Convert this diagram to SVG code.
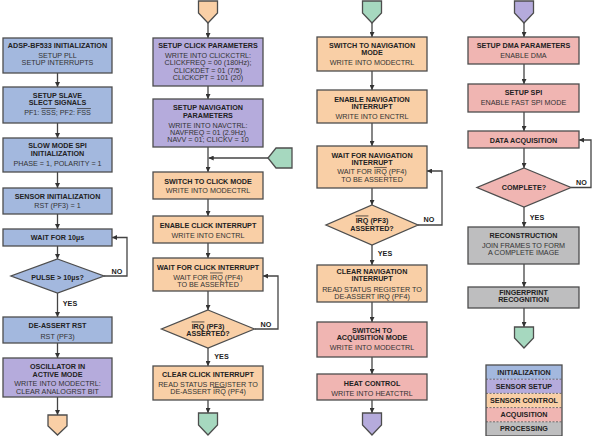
<svg xmlns="http://www.w3.org/2000/svg" width="594" height="436" viewBox="0 0 594 436">
<defs>
<style>
.b{stroke:#4d4d4d;stroke-width:1.3}
.ini{fill:#a3b8de}
.set{fill:#b5abdc}
.ctl{fill:#f9cfa6}
.acq{fill:#f0b5b2}
.pro{fill:#bebebf}
.grn{fill:#a6d8bf}
text{font-family:"Liberation Sans",Arial,sans-serif;font-size:7.2px;text-anchor:middle}
.t{font-weight:bold;fill:#222}
.r{fill:#333}
.c{stroke:#444;stroke-width:1.3;fill:none}
.ov{text-decoration:overline}
</style>
<marker id="ah" viewBox="0 0 6 6" refX="6" refY="3" markerWidth="5" markerHeight="5" markerUnits="userSpaceOnUse" orient="auto"><path d="M0,0 L6,3 L0,6 z" fill="#333"/></marker>
</defs>
<rect width="594" height="436" fill="#fff"/>

<g id="connectors">
<!-- column 1 -->
<path class="c" marker-end="url(#ah)" d="M57.5,73 V87"/>
<path class="c" marker-end="url(#ah)" d="M57.5,123 V138"/>
<path class="c" marker-end="url(#ah)" d="M57.5,172 V188"/>
<path class="c" marker-end="url(#ah)" d="M57.5,214 V229"/>
<path class="c" marker-end="url(#ah)" d="M57.5,246 V259"/>
<path class="c" marker-end="url(#ah)" d="M57.5,293 V317"/>
<path class="c" marker-end="url(#ah)" d="M57.5,343 V358"/>
<path class="c" marker-end="url(#ah)" d="M57.5,397 V415"/>
<path class="c" marker-end="url(#ah)" d="M104,276 H127 V237.5 H112"/>
<!-- column 2 -->
<path class="c" marker-end="url(#ah)" d="M208,23 V38"/>
<path class="c" marker-end="url(#ah)" d="M208,86 V99"/>
<path class="c" marker-end="url(#ah)" d="M208,147 V172"/>
<path class="c" marker-end="url(#ah)" d="M268,158 H208.7"/>
<path class="c" marker-end="url(#ah)" d="M208,199 V216"/>
<path class="c" marker-end="url(#ah)" d="M208,243 V258"/>
<path class="c" marker-end="url(#ah)" d="M208,291 V310"/>
<path class="c" marker-end="url(#ah)" d="M208,348 V366"/>
<path class="c" marker-end="url(#ah)" d="M208,400 V413"/>
<path class="c" marker-end="url(#ah)" d="M254.5,329 H278 V276 H263"/>
<!-- column 3 -->
<path class="c" marker-end="url(#ah)" d="M372,23 V37"/>
<path class="c" marker-end="url(#ah)" d="M372,71 V90"/>
<path class="c" marker-end="url(#ah)" d="M372,123 V146"/>
<path class="c" marker-end="url(#ah)" d="M372,188 V205"/>
<path class="c" marker-end="url(#ah)" d="M372,245 V265"/>
<path class="c" marker-end="url(#ah)" d="M372,302 V322"/>
<path class="c" marker-end="url(#ah)" d="M372,357 V374"/>
<path class="c" marker-end="url(#ah)" d="M372,400 V413"/>
<path class="c" marker-end="url(#ah)" d="M418,225 H442 V171 H427"/>
<!-- column 4 -->
<path class="c" marker-end="url(#ah)" d="M524,23 V37"/>
<path class="c" marker-end="url(#ah)" d="M524,64 V84"/>
<path class="c" marker-end="url(#ah)" d="M524,112 V131"/>
<path class="c" marker-end="url(#ah)" d="M524,148 V168"/>
<path class="c" marker-end="url(#ah)" d="M524,207 V227"/>
<path class="c" marker-end="url(#ah)" d="M524,264 V287"/>
<path class="c" marker-end="url(#ah)" d="M524,308 V327"/>
<path class="c" marker-end="url(#ah)" d="M571,187.5 H591 V140 H579"/>
<!-- labels -->
<text class="t" x="117" y="273.5">NO</text>
<text class="t" x="70" y="306">YES</text>
<text class="t" x="266" y="326.5">NO</text>
<text class="t" x="221.5" y="358.5">YES</text>
<text class="t" x="429" y="221.5">NO</text>
<text class="t" x="385" y="255.5">YES</text>
<text class="t" x="581.5" y="184.5">NO</text>
<text class="t" x="537" y="219.5">YES</text>
</g>

<!-- Column 1 -->
<g id="n-init">
<rect class="b ini" x="3" y="38" width="109" height="35"/>
<text class="t" x="57.5" y="47.6">ADSP-BF533 INITIALIZATION</text>
<text class="r" x="57.5" y="57.6">SETUP PLL</text>
<text class="r" x="57.5" y="65">SETUP INTERRUPTS</text>
</g>
<g id="n-slave">
<rect class="b ini" x="3" y="87" width="109" height="36"/>
<text class="t" x="57.5" y="98.3">SETUP SLAVE</text>
<text class="t" x="57.5" y="105.3">SLECT SIGNALS</text>
<text class="r" x="57.5" y="115.3">PF1: <tspan class="ov">SSS</tspan>; PF2: <tspan class="ov">FSS</tspan></text>
</g>
<g id="n-spi">
<rect class="b ini" x="3" y="138" width="109" height="34"/>
<text class="t" x="57.5" y="147.6">SLOW MODE SPI</text>
<text class="t" x="57.5" y="156">INITIALIZATION</text>
<text class="r" x="57.5" y="166">PHASE = 1, POLARITY = 1</text>
</g>
<g id="n-sensor">
<rect class="b ini" x="3" y="188" width="109" height="26"/>
<text class="t" x="57.5" y="198.6">SENSOR INITIALIZATION</text>
<text class="r" x="57.5" y="208.3">RST (PF3) = 1</text>
</g>
<g id="n-wait">
<rect class="b ini" x="3" y="229" width="109" height="17"/>
<text class="t" x="57.5" y="240.3">WAIT FOR 10µs</text>
</g>
<g id="n-pulse">
<path class="b ini" d="M57.5,259 L104,276 L57.5,293 L11,276 Z"/>
<text class="t" x="57.5" y="279.5">PULSE &gt; 10µs?</text>
</g>
<g id="n-deassert">
<rect class="b ini" x="3" y="317" width="109" height="26"/>
<text class="t" x="57.5" y="327.6">DE-ASSERT RST</text>
<text class="r" x="57.5" y="339.3">RST (PF3)</text>
</g>
<g id="n-osc">
<rect class="b set" x="3" y="358" width="109" height="39"/>
<text class="t" x="57.5" y="369">OSCILLATOR IN</text>
<text class="t" x="57.5" y="376.5">ACTIVE MODE</text>
<text class="r" x="57.5" y="386.3">WRITE INTO MODECTRL:</text>
<text class="r" x="57.5" y="393.8">CLEAR ANALOGRST BIT</text>
</g>
<g id="p-out1">
<path class="b ctl" d="M48,415 H67 V426 L57.5,435 L48,426 Z"/>
</g>

<!-- Column 2 -->
<g id="p-in2">
<path class="b ctl" d="M198.5,1 H217.5 V13 L208,23 L198.5,13 Z"/>
</g>
<g id="n-clickparam">
<rect class="b set" x="153" y="38" width="110" height="48"/>
<text class="t" x="208" y="47.6">SETUP CLICK PARAMETERS</text>
<text class="r" x="208" y="57.6">WRITE INTO CLICKCTRL:</text>
<text class="r" x="208" y="65">CLICKFREQ = 00 (180Hz);</text>
<text class="r" x="208" y="72.6">CLICKDET = 01 (7/5)</text>
<text class="r" x="208" y="80">CLICKCPT = 101 (20)</text>
</g>
<g id="n-navparam">
<rect class="b set" x="153" y="99" width="110" height="48"/>
<text class="t" x="208" y="110.3">SETUP NAVIGATION</text>
<text class="t" x="208" y="117.6">PARAMETERS</text>
<text class="r" x="208" y="127.6">WRITE INTO NAVCTRL:</text>
<text class="r" x="208" y="135">NAVFREQ = 01 (2.9Hz)</text>
<text class="r" x="208" y="142">NAVV = 01; CLICKV = 10</text>
</g>
<g id="p-side">
<path class="b grn" d="M292,148 V168 H276 L268,158 L276,148 Z"/>
</g>
<g id="n-clickmode">
<rect class="b ctl" x="153" y="172" width="110" height="27"/>
<text class="t" x="208" y="183.6">SWITCH TO CLICK MODE</text>
<text class="r" x="208" y="193.3">WRITE INTO MODECTRL</text>
</g>
<g id="n-enclick">
<rect class="b ctl" x="153" y="216" width="110" height="27"/>
<text class="t" x="208" y="227.6">ENABLE CLICK INTERRUPT</text>
<text class="r" x="208" y="237.6">WRITE INTO ENCTRL</text>
</g>
<g id="n-waitclick">
<rect class="b ctl" x="153" y="258" width="110" height="33"/>
<text class="t" x="208" y="270">WAIT FOR CLICK INTERRUPT</text>
<text class="r" x="208" y="279.6">WAIT FOR <tspan class="ov">IRQ</tspan> (PF4)</text>
<text class="r" x="208" y="287">TO BE ASSERTED</text>
</g>
<g id="n-irq1">
<path class="b ctl" d="M208,310 L254.5,329 L208,348 L161.5,329 Z"/>
<text class="t" x="208" y="328.6"><tspan class="ov">IRQ</tspan> (PF3)</text>
<text class="t" x="208" y="336">ASSERTED?</text>
</g>
<g id="n-clearclick">
<rect class="b ctl" x="153" y="366" width="110" height="34"/>
<text class="t" x="208" y="377">CLEAR CLICK INTERRUPT</text>
<text class="r" x="208" y="387">READ STATUS REGISTER TO</text>
<text class="r" x="208" y="394.3">DE-ASSERT <tspan class="ov">IRQ</tspan> (PF4)</text>
</g>
<g id="p-out2">
<path class="b grn" d="M198.5,413 H217.5 V425 L208,435 L198.5,425 Z"/>
</g>

<!-- Column 3 -->
<g id="p-in3">
<path class="b grn" d="M362.5,1 H381.5 V13 L372,23 L362.5,13 Z"/>
</g>
<g id="n-navmode">
<rect class="b ctl" x="317" y="37" width="110" height="34"/>
<text class="t" x="372" y="48.3">SWITCH TO NAVIGATION</text>
<text class="t" x="372" y="55.3">MODE</text>
<text class="r" x="372" y="65">WRITE INTO MODECTRL</text>
</g>
<g id="n-ennav">
<rect class="b ctl" x="317" y="90" width="110" height="33"/>
<text class="t" x="372" y="101.6">ENABLE NAVIGATION</text>
<text class="t" x="372" y="108.6">INTERRUPT</text>
<text class="r" x="372" y="118.6">WRITE INTO ENCTRL</text>
</g>
<g id="n-waitnav">
<rect class="b ctl" x="317" y="146" width="110" height="42"/>
<text class="t" x="372" y="157.6">WAIT FOR NAVIGATION</text>
<text class="t" x="372" y="165">INTERRUPT</text>
<text class="r" x="372" y="174.3">WAIT FOR <tspan class="ov">IRQ</tspan> (PF4)</text>
<text class="r" x="372" y="182">TO BE ASSERTED</text>
</g>
<g id="n-irq2">
<path class="b ctl" d="M372,205 L418,225 L372,245 L326,225 Z"/>
<text class="t" x="372" y="222.6"><tspan class="ov">IRQ</tspan> (PF3)</text>
<text class="t" x="372" y="231">ASSERTED?</text>
</g>
<g id="n-clearnav">
<rect class="b ctl" x="317" y="265" width="110" height="37"/>
<text class="t" x="372" y="274.3">CLEAR NAVIGATION</text>
<text class="t" x="372" y="281">INTERRUPT</text>
<text class="r" x="372" y="291.6">READ STATUS REGISTER TO</text>
<text class="r" x="372" y="299.3">DE-ASSERT IRQ (PF4)</text>
</g>
<g id="n-acqmode">
<rect class="b acq" x="317" y="322" width="110" height="35"/>
<text class="t" x="372" y="333.3">SWITCH TO</text>
<text class="t" x="372" y="340.3">ACQUISITION MODE</text>
<text class="r" x="372" y="350.3">WRITE INTO MODECTRL</text>
</g>
<g id="n-heat">
<rect class="b acq" x="317" y="374" width="110" height="26"/>
<text class="t" x="372" y="386">HEAT CONTROL</text>
<text class="r" x="372" y="396">WRITE INTO HEATCTRL</text>
</g>
<g id="p-out3">
<path class="b set" d="M362.5,413 H381.5 V425 L372,435 L362.5,425 Z"/>
</g>

<!-- Column 4 -->
<g id="p-in4">
<path class="b set" d="M514.5,1 H533.5 V13 L524,23 L514.5,13 Z"/>
</g>
<g id="n-dma">
<rect class="b acq" x="468" y="37" width="111" height="27"/>
<text class="t" x="523.5" y="48.3">SETUP DMA PARAMETERS</text>
<text class="r" x="523.5" y="58.3">ENABLE DMA</text>
</g>
<g id="n-fastspi">
<rect class="b acq" x="468" y="84" width="111" height="28"/>
<text class="t" x="523.5" y="95.3">SETUP SPI</text>
<text class="r" x="523.5" y="105.3">ENABLE FAST SPI MODE</text>
</g>
<g id="n-dataacq">
<rect class="b acq" x="468" y="131" width="111" height="17"/>
<text class="t" x="523.5" y="142.6">DATA ACQUISITION</text>
</g>
<g id="n-complete">
<path class="b acq" d="M524,168 L571,187.5 L524,207 L477,187.5 Z"/>
<text class="t" x="524" y="190">COMPLETE?</text>
</g>
<g id="n-recon">
<rect class="b pro" x="468" y="227" width="111" height="37"/>
<text class="t" x="523.5" y="237.6">RECONSTRUCTION</text>
<text class="r" x="523.5" y="247.6">JOIN FRAMES TO FORM</text>
<text class="r" x="523.5" y="255">A COMPLETE IMAGE</text>
</g>
<g id="n-finger">
<rect class="b pro" x="468" y="287" width="111" height="21"/>
<text class="t" x="523.5" y="294.6">FINGERPRINT</text>
<text class="t" x="523.5" y="302">RECOGNITION</text>
</g>
<g id="p-out4">
<path class="b grn" d="M514.5,327 H533.5 V338 L524,348 L514.5,338 Z"/>
</g>

<!-- Legend -->
<g id="legend">
<rect class="ini" x="486" y="365" width="76" height="14.2"/>
<rect class="set" x="486" y="379.2" width="76" height="14.2"/>
<rect class="ctl" x="486" y="393.4" width="76" height="14.2"/>
<rect class="acq" x="486" y="407.6" width="76" height="14.2"/>
<rect class="pro" x="486" y="421.8" width="76" height="14.2"/>
<path d="M486,379.2 H562 M486,393.4 H562 M486,407.6 H562 M486,421.8 H562" stroke="#555" stroke-width="0.8" stroke-dasharray="2,1.5" fill="none"/>
<rect x="486" y="365" width="76" height="71" fill="none" stroke="#4d4d4d" stroke-width="1.3"/>
<text class="t" x="524" y="374.6">INITIALIZATION</text>
<text class="t" x="524" y="388.8">SENSOR SETUP</text>
<text class="t" x="524" y="403">SENSOR CONTROL</text>
<text class="t" x="524" y="417.2">ACQUISITION</text>
<text class="t" x="524" y="431.4">PROCESSING</text>
</g>
</svg>
